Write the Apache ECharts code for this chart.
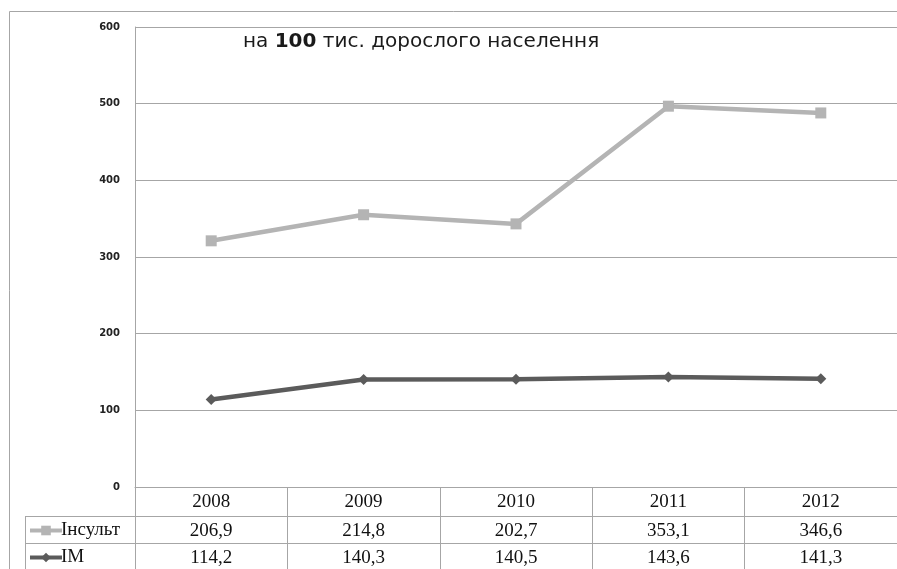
<!DOCTYPE html>
<html>
<head>
<meta charset="utf-8">
<script src="https://cdn.jsdelivr.net/npm/echarts@6/dist/echarts.min.js"></script>
<style>
  html, body { margin: 0; padding: 0; background: #fff; }
  #chart { width: 897px; height: 569px; }
</style>
</head>
<body>
<div id="chart"></div>
<script>
// Rates per 100k adult population, 2008–2012
const years = ['2008', '2009', '2010', '2011', '2012'];
const strokeValues = [206.9, 214.8, 202.7, 353.1, 346.6];   // Інсульт
const miValues = [114.2, 140.3, 140.5, 143.6, 141.3];       // IM
const yTicks = [0, 100, 200, 300, 400, 500, 600];

const fmt = v => v.toFixed(1).replace('.', ',');

const gridColor = '#a6a6a6';
const tableFont = 'Liberation Serif';
const tableSize = 19;

const chart = echarts.init(document.getElementById('chart'));

const valueAxisStyle = (offset, data) => ({
  type: 'category',
  gridIndex: 0,
  position: 'bottom',
  offset: offset,
  data: data,
  axisLine: { show: true, lineStyle: { color: gridColor, width: 1 } },
  axisTick: { show: false },
  axisLabel: { margin: 6, fontFamily: tableFont, fontSize: tableSize, color: '#111' },
  splitLine: { show: false }
});

chart.setOption({
  animation: false,
  grid: { left: 135, top: 27, height: 460, width: 772.5 },
  title: {
    left: 238, top: 27,
    text: '{a|на }{b|100}{a| тис. дорослого населення}',
    textStyle: {
      rich: {
        a: { fontFamily: 'DejaVu Sans', fontSize: 20, fontWeight: 'normal', color: '#1a1a1a' },
        b: { fontFamily: 'DejaVu Sans', fontSize: 20, fontWeight: 'bold', color: '#1a1a1a' }
      }
    }
  },
  legend: {
    orient: 'vertical',
    left: 28, top: 521,
    padding: 0,
    height: 60,
    itemGap: 8,
    itemWidth: 32, itemHeight: 12,
    data: ['Інсульт', 'IM'],
    lineStyle: { width: 4 },
    textStyle: { fontFamily: tableFont, fontSize: tableSize, color: '#111', padding: [0, 0, 0, -6] }
  },
  xAxis: [
    {
      type: 'category',
      data: years,
      boundaryGap: true,
      axisLine: { show: true, lineStyle: { color: gridColor, width: 1 } },
      axisTick: { show: true, length: 90, lineStyle: { color: gridColor, width: 1 } },
      axisLabel: { margin: 6, fontFamily: tableFont, fontSize: tableSize, color: '#111' }
    },
    valueAxisStyle(29, strokeValues.map(fmt)),
    valueAxisStyle(56, miValues.map(fmt))
  ],
  yAxis: {
    type: 'value',
    min: yTicks[0], max: yTicks[yTicks.length - 1], interval: 100,
    axisLine: { show: true, lineStyle: { color: gridColor, width: 1 } },
    axisTick: { show: false },
    axisLabel: { margin: 15, fontFamily: 'DejaVu Sans', fontSize: 10, fontWeight: 'bold', color: '#222' },
    splitLine: { lineStyle: { color: gridColor, width: 1 } }
  },
  series: [
    {
      name: 'IM',
      type: 'line',
      stack: 'total',
      data: miValues,
      symbol: 'diamond',
      symbolSize: 11,
      lineStyle: { color: '#5b5b5b', width: 4.5 },
      itemStyle: { color: '#5b5b5b' },
      z: 3
    },
    {
      name: 'Інсульт',
      type: 'line',
      stack: 'total',
      data: strokeValues,
      symbol: 'rect',
      symbolSize: 11,
      lineStyle: { color: '#b4b4b4', width: 4.5 },
      itemStyle: { color: '#b4b4b4' },
      z: 2
    }
  ],
  graphic: [
    // outer frame
    { type: 'polyline', shape: { points: [[9.5, 569], [9.5, 11.5], [897, 11.5]] },
      style: { stroke: gridColor, fill: null, lineWidth: 1 }, silent: true },
    // legend column of the data table
    { type: 'line', shape: { x1: 25, y1: 516.5, x2: 135, y2: 516.5 },
      style: { stroke: gridColor, lineWidth: 1 }, silent: true },
    { type: 'line', shape: { x1: 25, y1: 543.5, x2: 135, y2: 543.5 },
      style: { stroke: gridColor, lineWidth: 1 }, silent: true },
    { type: 'line', shape: { x1: 25.5, y1: 516, x2: 25.5, y2: 569 },
      style: { stroke: gridColor, lineWidth: 1 }, silent: true }
  ]
});
</script>
</body>
</html>
